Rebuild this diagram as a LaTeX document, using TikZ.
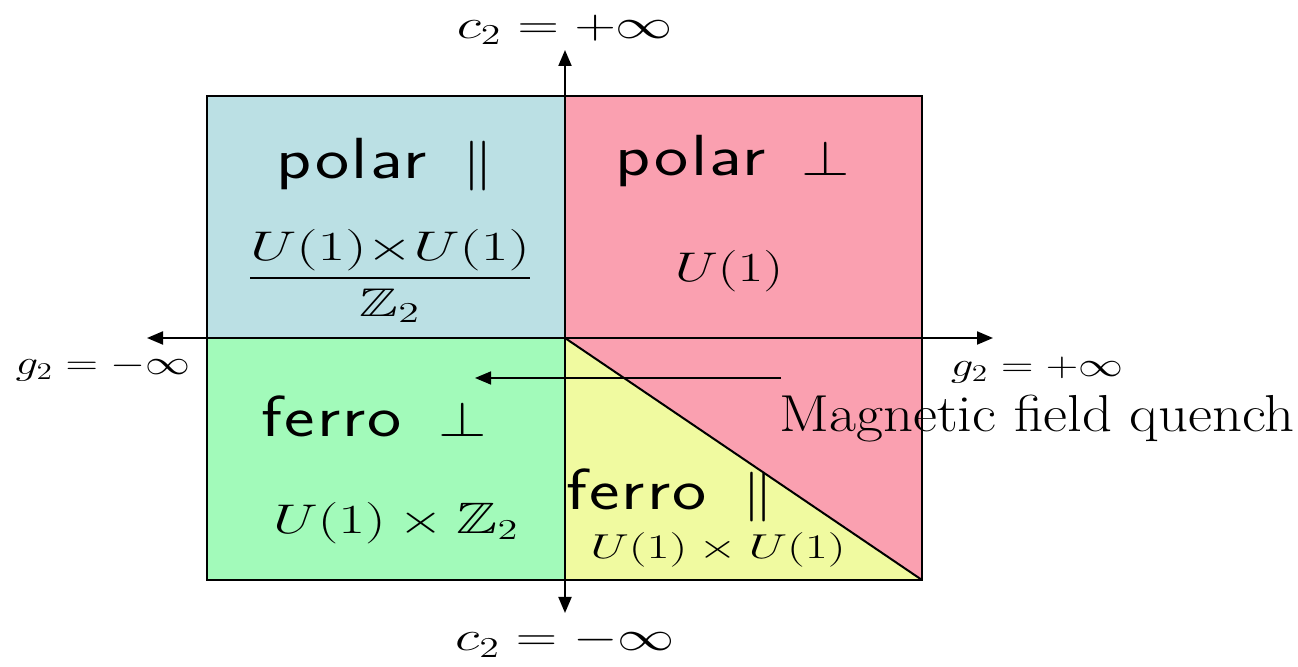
\documentclass[tikz,border=0pt]{standalone}
\usepackage{amssymb}
\usepackage{amsmath}
\usepackage{fontspec}
\usepackage{graphicx}
\usepackage{tikz}
\usetikzlibrary{arrows.meta}

\newfontfamily\phasefont[LetterSpace=3]{Latin Modern Sans}

\definecolor{polarpar}{RGB}{187,224,228}
\definecolor{polarperp}{RGB}{250,160,176}
\definecolor{ferroperp}{RGB}{162,250,186}
\definecolor{ferropar}{RGB}{240,250,160}

\newcommand{\wide}[2][1.3]{\scalebox{#1}[1]{#2}}

\begin{document}
\begin{tikzpicture}[
    x=0.5pt, y=-0.5pt,
    >={Triangle[length=8pt,width=6.5pt]},
    every node/.style={inner sep=0pt},
    phase/.style={font=\fontsize{29}{33}\phasefont},
    group/.style={font=\fontsize{22}{26}\selectfont},
    axislabel/.style={font=\fontsize{22}{26}\selectfont}
]
\useasboundingbox (0,0) rectangle (1298,667);

% phase regions
\fill[polarpar] (207,96) rectangle (565,338);
\fill[polarperp] (565,96) rectangle (922,338);
\fill[polarperp] (565,338) -- (922,338) -- (922,580) -- cycle;
\fill[ferroperp] (207,338) rectangle (565,580);
\fill[ferropar] (565,338) -- (922,580) -- (565,580) -- cycle;
\draw[line width=1pt] (207,96) rectangle (922,580);

\coordinate (O) at (565,338);
\coordinate (corner) at (922,580);
\coordinate (up) at (565,50);
\coordinate (down) at (565,613);
\coordinate (west) at (147,338);
\coordinate (east) at (993,338);
\coordinate (qstart) at (781,378);
\coordinate (qend) at (475,378);

\draw[line width=1pt] (O) -- (corner);

% axes
\draw[<->, line width=1pt] (down) -- (up);
\draw[<->, line width=1pt] (west) -- (east);

\node[axislabel] (c2p) at (565,30) {\wide[1.38]{$c_2 = +\infty$}};
\node[axislabel] (c2m) at (565,642) {\wide[1.38]{$c_2 = -\infty$}};
\node[axislabel, font=\fontsize{18}{21}\selectfont] (g2m) at (103,368) {\wide{$g_2 = -\infty$}};
\node[axislabel, font=\fontsize{18}{21}\selectfont] (g2p) at (1037,370) {\wide{$g_2 = +\infty$}};

% labels of the phases
\node[phase] (pp) at (385,165) {\wide[1.25]{polar\hspace{0.5em}$\|$}};
\node[group, font=\fontsize{20}{24}\selectfont] (ppg) at (390,276) {\wide[1.45]{$\dfrac{U(1){\times}U(1)}{\mathbb{Z}_2}$}};
\node[phase] (po) at (733,161) {\wide[1.25]{polar\hspace{0.5em}$\perp$}};
\node[group] (pog) at (729,271) {\wide[1.35]{$U(1)$}};
\node[phase] (fo) at (374,416) {\wide[1.25]{ferro\hspace{0.5em}$\perp$}};
\node[group] (fog) at (396,523) {\wide[1.4]{$U(1)\times\mathbb{Z}_2$}};
\node[phase] (fp) at (670,495) {\wide[1.25]{ferro\hspace{0.5em}$\|$}};
\node[group, font=\fontsize{19}{23}\selectfont] (fpg) at (718,550) {\wide[1.45]{$U(1)\times U(1)$}};

% quench
\draw[->, line width=0.8pt] (qstart) -- (qend);
\node[font=\fontsize{26}{30}\selectfont] (quench) at (1037,419) {\wide[1.13]{Magnetic field quench}};
\end{tikzpicture}
\end{document}
